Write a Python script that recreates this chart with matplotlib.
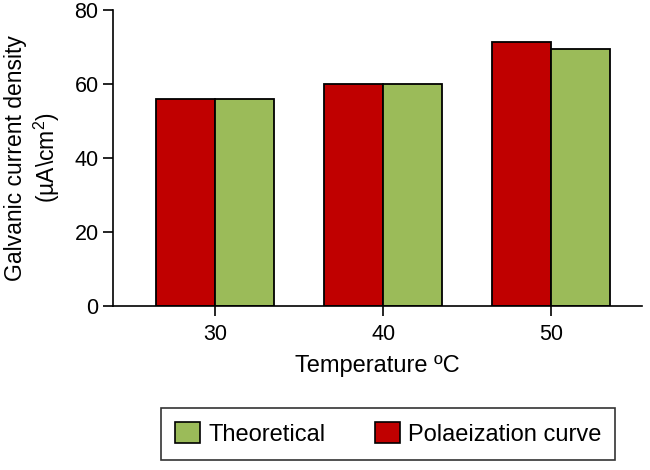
import matplotlib
matplotlib.use("Agg")
import matplotlib.pyplot as plt
import numpy as np
from matplotlib.patches import Patch

plt.rcParams['font.family'] = ['Liberation Sans', 'DejaVu Sans']
plt.rcParams['mathtext.fontset'] = 'custom'
plt.rcParams['mathtext.rm'] = 'Liberation Sans'

temperatures = ["30", "40", "50"]
polarization = [56.0, 60.0, 71.2]
theoretical = [56.0, 60.0, 69.3]
yticks = [0, 20, 40, 60, 80]

red = "#C00000"
green = "#9BBB59"

fig = plt.figure(figsize=(6.5, 4.7), dpi=100)
ax = fig.add_axes([0.174, 0.349, 0.814, 0.630])

x = np.arange(len(temperatures))
w = 0.351
ax.bar(x - w/2, polarization, width=w, color=red, edgecolor="black", linewidth=1.3)
ax.bar(x + w/2, theoretical, width=w, color=green, edgecolor="black", linewidth=1.3)

ax.set_xlim(-0.607, 2.542)
ax.set_ylim(0, 80)
ax.set_xticks(x)
ax.set_xticklabels(temperatures)
ax.set_yticks(yticks)
ax.tick_params(axis='both', labelsize=15.5, length=7, width=1.2, direction='out')
ax.tick_params(axis='x', pad=6)
ax.spines['top'].set_visible(False)
ax.spines['right'].set_visible(False)
ax.spines['left'].set_linewidth(1.2)
ax.spines['bottom'].set_linewidth(1.2)

ax.set_xlabel("Temperature ºC", fontsize=17, labelpad=7)
ax.set_ylabel("Galvanic current density\n(µA\\cm$^{2}$)", fontsize=16.5, labelpad=9)

handles = [Patch(facecolor=green, edgecolor="black", linewidth=1.2, label="Theoretical"),
           Patch(facecolor=red, edgecolor="black", linewidth=1.2, label="Polaeization curve")]
leg = fig.legend(handles=handles, loc='center', bbox_to_anchor=(0.597, 0.077), ncol=2,
                 fontsize=17, frameon=True, fancybox=False, edgecolor="black",
                 handlelength=1.05, handleheight=1.0, handletextpad=0.35, columnspacing=2.1,
                 borderpad=0.6, borderaxespad=0.0)
leg.get_frame().set_linewidth(1.2)

fig.savefig("out.png", dpi=100)
